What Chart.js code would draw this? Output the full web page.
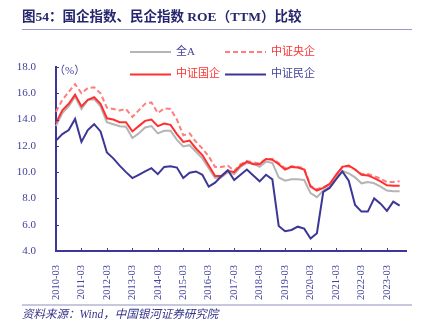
<!DOCTYPE html>
<html><head><meta charset="utf-8">
<script src="https://cdn.jsdelivr.net/npm/chart.js@4.4.0/dist/chart.umd.min.js"></script>
<style>html,body{margin:0;padding:0;background:#fff;overflow:hidden}canvas{display:block}</style>
</head><body>
<canvas id="c" width="422" height="326"></canvas>
<script>
const quarters = [
 '2010-03','2010-06','2010-09','2010-12','2011-03','2011-06','2011-09','2011-12',
 '2012-03','2012-06','2012-09','2012-12','2013-03','2013-06','2013-09','2013-12',
 '2014-03','2014-06','2014-09','2014-12','2015-03','2015-06','2015-09','2015-12',
 '2016-03','2016-06','2016-09','2016-12','2017-03','2017-06','2017-09','2017-12',
 '2018-03','2018-06','2018-09','2018-12','2019-03','2019-06','2019-09','2019-12',
 '2020-03','2020-06','2020-09','2020-12','2021-03','2021-06','2021-09','2021-12',
 '2022-03','2022-06','2022-09','2022-12','2023-03','2023-06','2023-09','2023-12'
];
const tickLabels = ['2010-03','2011-03','2012-03','2013-03','2014-03','2015-03','2016-03',
 '2017-03','2018-03','2019-03','2020-03','2021-03','2022-03','2023-03'];
const yTicks = [4, 6, 8, 10, 12, 14, 16, 18];

const seriesNames = ['全A', '中证央企', '中证国企', '中证民企'];
const allA = [13.5,14.5,15.0,15.75,14.8,15.5,15.55,15.0,13.8,13.65,13.5,13.45,12.6,12.95,13.4,13.5,
 12.95,13.15,13.15,12.45,11.95,12.05,11.55,11.05,10.3,9.55,9.6,10.0,9.85,10.4,10.7,10.65,
 10.4,10.8,10.7,9.6,9.35,9.45,9.45,9.4,8.4,8.1,8.6,8.9,9.65,10.1,9.9,9.6,
 9.15,9.25,9.15,8.9,8.6,8.55,8.55];
const csiCentral = [14.6,15.5,16.1,16.7,16.0,16.4,16.45,16.0,14.9,14.8,14.7,14.8,14.2,14.7,15.2,15.3,
 14.5,14.85,14.8,14.0,12.8,12.95,12.3,11.8,11.2,10.4,10.4,10.5,10.1,10.6,10.85,10.75,
 10.65,11.0,11.0,10.7,10.3,10.45,10.4,10.3,8.95,8.7,8.85,9.05,9.5,10.4,10.45,10.2,
 9.85,9.85,9.7,9.5,9.25,9.25,9.3];
const csiSOE = [13.75,14.7,15.2,15.9,15.0,15.5,15.7,15.2,14.1,14.0,13.8,13.8,13.1,13.5,13.9,14.0,
 13.5,13.7,13.6,12.9,12.3,12.4,11.8,11.3,10.5,9.7,9.7,10.1,10.0,10.5,10.8,10.6,
 10.6,11.0,10.95,10.6,10.2,10.4,10.35,10.2,8.9,8.6,8.8,9.1,9.8,10.4,10.5,10.2,
 9.8,9.75,9.55,9.3,9.0,8.97,8.97];
const csiPrivate = [12.4,12.9,13.2,14.05,12.3,13.2,13.65,13.1,11.5,11.05,10.5,10.0,9.55,9.8,10.05,10.3,
 9.85,10.4,10.45,10.35,9.55,9.95,10.05,9.8,8.9,9.2,9.7,10.15,9.4,9.8,10.2,9.75,
 9.3,9.8,9.45,5.9,5.5,5.6,5.85,5.7,4.95,5.35,8.5,8.8,9.45,10.05,9.35,7.5,
 7.0,7.0,8.0,7.6,7.05,7.75,7.45];

const NAVY = '#3c3796';
const TXT = '#42429c';
const RED = '#ff3030';
const PINK = '#ff7d7d';
const GRAY = '#b5b5b5';
const SERIF = '"Liberation Serif","Noto Sans CJK SC",serif';

const decor = {
  id: 'decor',
  afterDraw(chart) {
    const ctx = chart.ctx;
    const ca = chart.chartArea;
    ctx.save();
    ctx.fillStyle = '#26266e';
    ctx.font = 'bold 13.5px ' + SERIF;
    ctx.textBaseline = 'middle';
    ctx.textAlign = 'left';
    ctx.fillText('图54：国企指数、民企指数 ROE（TTM）比较', 22, 18);
    ctx.strokeStyle = '#9898cc';
    ctx.lineWidth = 1.2;
    ctx.beginPath(); ctx.moveTo(22, 29.5); ctx.lineTo(412, 29.5); ctx.stroke();
    ctx.strokeStyle = '#b4b4d2';
    ctx.lineWidth = 1.5;
    ctx.beginPath(); ctx.moveTo(22, 305); ctx.lineTo(412, 305); ctx.stroke();
    ctx.fillStyle = '#34348a';
    ctx.font = 'italic 11.5px ' + SERIF;
    ctx.fillText('资料来源：Wind，中国银河证券研究院', 22, 315);
    ctx.fillStyle = TXT;
    ctx.font = '11px ' + SERIF;
    ctx.fillText('（%）', ca.left - 2, 71);
    ctx.strokeStyle = NAVY;
    ctx.lineWidth = 1;
    const ys = chart.scales.y, xs = chart.scales.x;
    yTicks.forEach(v => {
      const py = Math.round(ys.getPixelForValue(v)) + 0.5;
      ctx.beginPath(); ctx.moveTo(ca.left, py); ctx.lineTo(ca.left + 3, py); ctx.stroke();
    });
    tickLabels.forEach(l => {
      const px = Math.round(xs.getPixelForValue(quarters.indexOf(l))) + 0.5;
      ctx.beginPath(); ctx.moveTo(px, ca.bottom); ctx.lineTo(px, ca.bottom - 3); ctx.stroke();
    });
    const items = [
      {x: 130, y: 52, ds: 0, tc: TXT},
      {x: 225, y: 52, ds: 1, tc: RED},
      {x: 130, y: 74.5, ds: 2, tc: RED},
      {x: 225, y: 74.5, ds: 3, tc: TXT}
    ];
    ctx.font = '11px ' + SERIF;
    items.forEach(it => {
      const d = chart.data.datasets[it.ds];
      ctx.strokeStyle = d.borderColor;
      ctx.lineWidth = 2;
      ctx.setLineDash(d.borderDash || []);
      ctx.beginPath(); ctx.moveTo(it.x, it.y); ctx.lineTo(it.x + 41, it.y); ctx.stroke();
      ctx.setLineDash([]);
      ctx.fillStyle = it.tc;
      ctx.fillText(d.label, it.x + 46, it.y);
    });
    ctx.restore();
  }
};

new Chart(document.getElementById('c'), {
  type: 'line',
  data: {
    labels: quarters,
    datasets: [
      {label: seriesNames[0], data: allA, borderColor: GRAY, borderWidth: 2, order: 3},
      {label: seriesNames[1], data: csiCentral, borderColor: PINK, borderWidth: 2, borderDash: [5, 3], order: 2},
      {label: seriesNames[2], data: csiSOE, borderColor: RED, borderWidth: 2, order: 1},
      {label: seriesNames[3], data: csiPrivate, borderColor: NAVY, borderWidth: 2, order: 0}
    ]
  },
  options: {
    responsive: false,
    animation: false,
    devicePixelRatio: 1,
    layout: {padding: {left: 0, right: 16, top: 67, bottom: 0}},
    elements: {point: {radius: 0}, line: {tension: 0, fill: false}},
    plugins: {legend: {display: false}, tooltip: {enabled: false}},
    scales: {
      x: {
        type: 'category',
        offset: false,
        grid: {display: false},
        border: {display: true, color: NAVY, width: 2},
        ticks: {
          autoSkip: false, maxRotation: 90, minRotation: 90, padding: 6,
          color: TXT, font: {family: SERIF, size: 10.5},
          callback: function(v, i) { const l = quarters[i]; return tickLabels.includes(l) ? l : null; }
        },
        afterFit: s => { s.height = 75; }
      },
      y: {
        min: 4, max: 18,
        grid: {display: false},
        border: {display: true, color: NAVY, width: 2},
        ticks: {stepSize: 2, padding: 12, color: TXT, font: {family: SERIF, size: 11},
          callback: v => v.toFixed(1)},
        afterFit: s => { s.width = 56; }
      }
    }
  },
  plugins: [decor]
});
</script>
</body></html>
